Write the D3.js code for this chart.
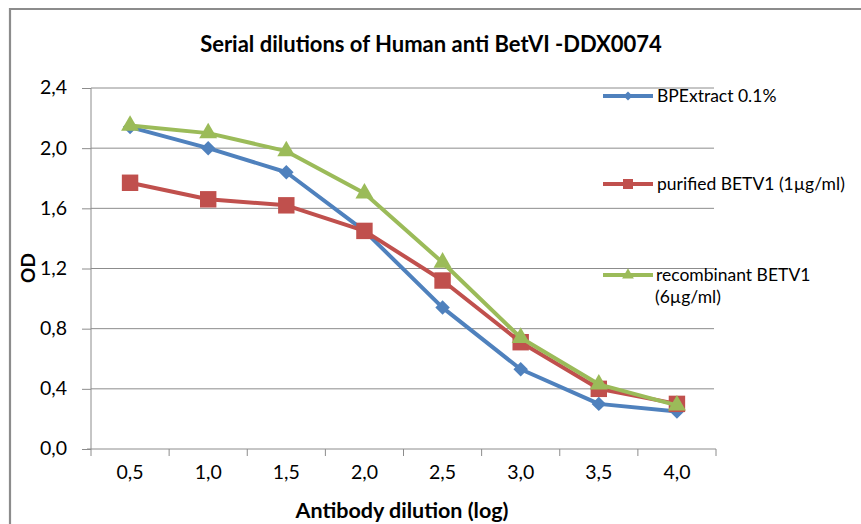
<!DOCTYPE html>
<html>
<head>
<meta charset="utf-8">
<script src="https://cdn.jsdelivr.net/npm/d3@7"></script>
<style>
  html, body { margin: 0; padding: 0; background: #fff; }
  svg { display: block; font-family: Lato, "Open Sans", sans-serif; }
</style>
</head>
<body>
<svg id="chart" width="861" height="524"></svg>
<script>
const categories = ["0,5", "1,0", "1,5", "2,0", "2,5", "3,0", "3,5", "4,0"];
const bpExtract = [2.14, 2.00, 1.84, 1.45, 0.94, 0.53, 0.30, 0.25];
const purified = [1.77, 1.66, 1.62, 1.45, 1.12, 0.71, 0.40, 0.30];
const recombinant = [2.15, 2.10, 1.98, 1.70, 1.24, 0.74, 0.43, 0.29];
const yTicks = [0, 0.4, 0.8, 1.2, 1.6, 2.0, 2.4];
const seriesNames = ["BPExtract 0.1%", "purified BETV1 (1µg/ml)", "recombinant BETV1 (6µg/ml)"];

const series = [
  { name: seriesNames[0], values: bpExtract, color: "#4F81BD", symbol: "diamond" },
  { name: seriesNames[1], values: purified, color: "#C0504D", symbol: "square" },
  { name: seriesNames[2], values: recombinant, color: "#9BBB59", symbol: "triangle" }
];

const svg = d3.select("#chart");
const pLeft = 91, pRight = 716, pTop = 88, pBottom = 449;

// outer chart border (only left and top visible)
svg.append("path").attr("d", "M10,524 V9 H861").attr("fill", "none")
  .attr("stroke", "#8c8c8c").attr("stroke-width", 2.2);

const x = d3.scaleBand().domain(categories).range([pLeft, pRight]);
const y = d3.scaleLinear().domain([0, 2.4]).range([pBottom, pTop]);

// gridlines
svg.append("g").selectAll("line").data(yTicks.filter(d => d > 0)).join("line")
  .attr("x1", pLeft).attr("x2", 714)
  .attr("y1", d => y(d)).attr("y2", d => y(d))
  .attr("stroke", "#8c8c8c").attr("stroke-width", 1);

// y axis
const fmt = d => d.toFixed(1).replace(".", ",");
const yAxis = d3.axisLeft(y).tickValues(yTicks).tickFormat(fmt).tickSize(9).tickPadding(15);
const gy = svg.append("g").attr("transform", `translate(${pLeft},0)`).call(yAxis);
gy.select(".domain").attr("stroke", "#8c8c8c").attr("d", `M0,${pTop}V${pBottom}`);
gy.selectAll(".tick line").attr("stroke", "#8c8c8c");
gy.selectAll(".tick text").attr("font-size", 19.5).attr("fill", "#000")
  .attr("font-family", "Lato, sans-serif").attr("dy", "0.3em");

// x axis
const xAxis = d3.axisBottom(x).tickSize(0).tickPadding(16);
const gx = svg.append("g").attr("transform", `translate(0,${pBottom})`).call(xAxis);
gx.select(".domain").attr("stroke", "#8c8c8c").attr("d", `M${pLeft - 4},0H${pRight}`);
gx.selectAll(".tick text").attr("font-size", 19.5).attr("fill", "#000")
  .attr("font-family", "Lato, sans-serif");
// band boundary ticks
const bounds = categories.map(c => x(c)).concat([x(categories[categories.length - 1]) + x.bandwidth()]);
svg.append("g").selectAll("line").data(bounds).join("line")
  .attr("x1", d => d).attr("x2", d => d)
  .attr("y1", pBottom).attr("y2", pBottom + 7)
  .attr("stroke", "#8c8c8c");

const cx = c => x(c) + x.bandwidth() / 2;

const sym = {
  diamond: d3.symbol().type(d3.symbolSquare).size(105),
  square: d3.symbol().type(d3.symbolSquare).size(270),
  triangle: d3.symbol().type(d3.symbolTriangle).size(140)
};
const rot = { diamond: 45, square: 0, triangle: 0 };
const legendSym = {
  diamond: d3.symbol().type(d3.symbolSquare).size(40),
  square: d3.symbol().type(d3.symbolSquare).size(100),
  triangle: d3.symbol().type(d3.symbolTriangle).size(60)
};

const line = d3.line().x((d, i) => cx(categories[i])).y(d => y(d));

series.forEach(s => {
  svg.append("path").datum(s.values).attr("d", line)
    .attr("fill", "none").attr("stroke", s.color).attr("stroke-width", 4)
    .attr("stroke-linejoin", "round");
  svg.append("g").selectAll("path").data(s.values).join("path")
    .attr("transform", (d, i) => `translate(${cx(categories[i])},${y(d)}) rotate(${rot[s.symbol]})`)
    .attr("d", sym[s.symbol]()).attr("fill", s.color);
});

// legend
const legendY = [96, 184, 275];
series.forEach((s, i) => {
  const g = svg.append("g").attr("transform", `translate(603,${legendY[i]})`);
  g.append("line").attr("x1", 0).attr("x2", 50).attr("y1", 0).attr("y2", 0)
    .attr("stroke", s.color).attr("stroke-width", 4);
  g.append("path").attr("transform", `translate(25,0) rotate(${rot[s.symbol]})`)
    .attr("d", legendSym[s.symbol]()).attr("fill", s.color);
  const t = g.append("text").attr("x", 54).attr("y", 6).attr("font-size", 17.5).attr("fill", "#000");
  if (i === 2) {
    t.append("tspan").attr("x", 53).text("recombinant BETV1");
    t.append("tspan").attr("x", 52).attr("dy", 22).text("(6µg/ml)");
  } else {
    t.text(s.name);
  }
});

// title
svg.append("text").attr("x", 431).attr("y", 52).attr("text-anchor", "middle")
  .attr("font-size", 22).attr("font-weight", "bold").attr("fill", "#000")
  .text("Serial dilutions of Human anti BetVI -DDX0074");

// axis titles
svg.append("text").attr("x", 402).attr("y", 518).attr("text-anchor", "middle")
  .attr("font-size", 21.5).attr("font-weight", "bold").attr("fill", "#000")
  .text("Antibody dilution (log)");
svg.append("text").attr("transform", "translate(35,268) rotate(-90)").attr("text-anchor", "middle")
  .attr("font-size", 19).attr("font-weight", "bold").attr("fill", "#000")
  .text("OD");
</script>
</body>
</html>
